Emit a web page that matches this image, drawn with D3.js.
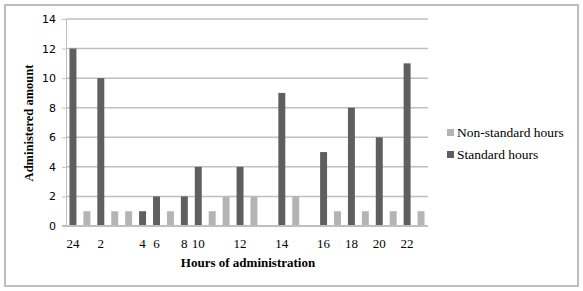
<!DOCTYPE html>
<html lang="en">
<head>
    <meta charset="UTF-8">
    <title>Administered amount by hour</title>
    <style>
        body { margin: 0; background: #fff; }
        svg text { fill: #000; }
        .ytick text { font-family: "DejaVu Sans", Verdana, sans-serif; font-size: 11px; }
        .xtick text { font-family: "Liberation Serif", "Times New Roman", serif; font-size: 13px; }
        .axis-title { font-family: "Liberation Serif", "Times New Roman", serif; font-size: 13px; font-weight: bold; }
        .legend text { font-family: "Liberation Serif", "Times New Roman", serif; font-size: 13.5px; }
    </style>
</head>
<body>
    <svg id="chart" width="583" height="291"></svg>

    <script src="https://d3js.org/d3.v7.min.js"></script>
    <script>
        // one slot per row of the source table; unlabeled rows are the non-standard hours
        const hourLabels = ["24", "", "2", "", "", "4", "6", "", "8", "10", "", "", "12", "", "", "14", "", "", "16", "", "18", "", "20", "", "22", ""];
        const standardHours = [12, 0, 10, 0, 0, 1, 2, 0, 2, 4, 0, 0, 4, 0, 0, 9, 0, 0, 5, 0, 8, 0, 6, 0, 11, 0];
        const nonStandardHours = [0, 1, 0, 1, 1, 0, 0, 1, 0, 0, 1, 2, 0, 2, 0, 0, 2, 0, 0, 1, 0, 1, 0, 1, 0, 1];
        const yTicks = [0, 2, 4, 6, 8, 10, 12, 14];

        const darkColor = "#5f5f5f";
        const lightColor = "#b4b4b4";
        const gridColor = "#bfbfbf";

        const svg = d3.select("#chart");

        // outer frame
        svg.append("rect")
            .attr("x", 5).attr("y", 5)
            .attr("width", 573).attr("height", 281)
            .attr("fill", "#fff")
            .attr("stroke", "#bdbdbd")
            .attr("stroke-width", 2);

        const plot = { left: 66, right: 428, top: 19, bottom: 226 };

        const slots = d3.range(hourLabels.length);
        const x = d3.scaleBand()
            .domain(slots)
            .range([plot.left, plot.right])
            .paddingInner(0.5)
            .paddingOuter(0.25);

        const y = d3.scaleLinear()
            .domain([0, 14])
            .range([plot.bottom, plot.top]);

        // gridlines + y ticks
        const yAxis = svg.append("g")
            .attr("class", "ytick")
            .attr("transform", `translate(${plot.left},0)`)
            .call(d3.axisLeft(y).tickValues(yTicks).tickSize(4).tickPadding(6));
        yAxis.select(".domain").attr("stroke", gridColor);
        yAxis.selectAll(".tick line").attr("stroke", gridColor);

        svg.append("g")
            .selectAll("line")
            .data(yTicks.filter(d => d > 0))
            .enter().append("line")
            .attr("x1", plot.left)
            .attr("x2", plot.right)
            .attr("y1", d => y(d))
            .attr("y2", d => y(d))
            .attr("stroke", gridColor)
            .attr("stroke-width", 1.5);

        // bars - only one series is non-zero in each slot
        const bars = svg.append("g");
        bars.selectAll(".std")
            .data(slots.filter(i => standardHours[i] > 0))
            .enter().append("rect")
            .attr("x", i => x(i))
            .attr("y", i => y(standardHours[i]))
            .attr("width", x.bandwidth())
            .attr("height", i => y(0) - y(standardHours[i]))
            .attr("fill", darkColor);

        bars.selectAll(".nonstd")
            .data(slots.filter(i => nonStandardHours[i] > 0))
            .enter().append("rect")
            .attr("x", i => x(i))
            .attr("y", i => y(nonStandardHours[i]))
            .attr("width", x.bandwidth())
            .attr("height", i => y(0) - y(nonStandardHours[i]))
            .attr("fill", lightColor);

        // x axis line
        svg.append("line")
            .attr("x1", plot.left - 4)
            .attr("x2", plot.right)
            .attr("y1", plot.bottom)
            .attr("y2", plot.bottom)
            .attr("stroke", gridColor)
            .attr("stroke-width", 2);

        const xAxis = svg.append("g")
            .attr("class", "xtick")
            .attr("transform", `translate(0,${plot.bottom})`)
            .call(d3.axisBottom(x).tickSize(0).tickPadding(13).tickFormat(i => hourLabels[i]));
        xAxis.select(".domain").remove();

        // axis titles
        svg.append("text")
            .attr("class", "axis-title")
            .attr("x", 248)
            .attr("y", 267)
            .attr("text-anchor", "middle")
            .text("Hours of administration");

        svg.append("text")
            .attr("class", "axis-title")
            .attr("transform", "translate(33,123) rotate(-90)")
            .attr("text-anchor", "middle")
            .style("font-size", "12.5px")
            .text("Administered amount");

        // legend
        const legendItems = [
            { label: "Non-standard hours", color: lightColor },
            { label: "Standard hours", color: darkColor }
        ];
        const legend = svg.append("g").attr("class", "legend");
        legendItems.forEach((d, i) => {
            const ly = 133 + i * 22;
            legend.append("rect")
                .attr("x", 447).attr("y", ly - 4)
                .attr("width", 7).attr("height", 7)
                .attr("fill", d.color);
            legend.append("text")
                .attr("x", 457).attr("y", ly + 4)
                .text(d.label);
        });
    </script>
</body>
</html>
